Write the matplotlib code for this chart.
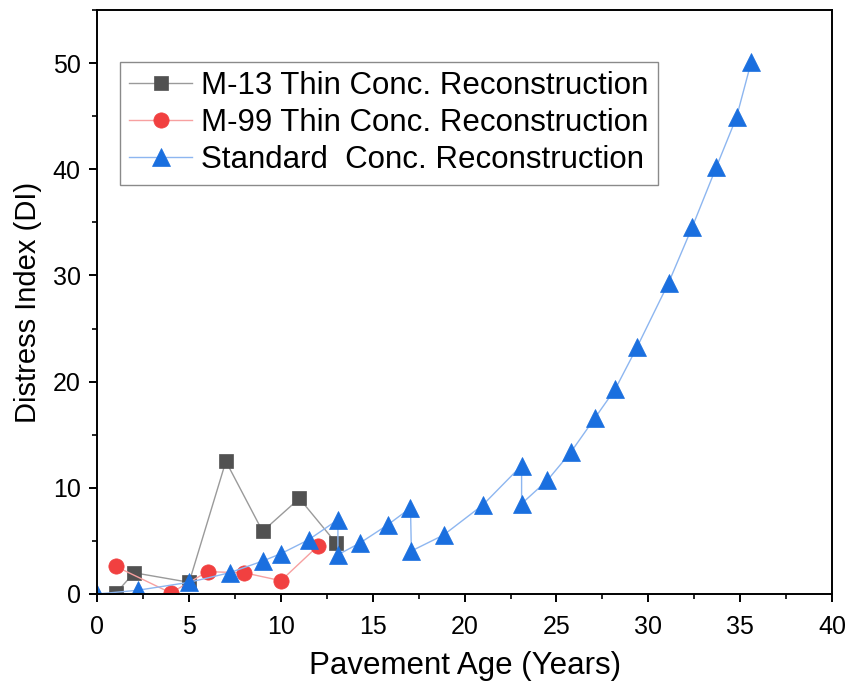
import matplotlib
matplotlib.use("Agg")
import matplotlib.pyplot as plt
from matplotlib.ticker import MultipleLocator

plt.rcParams['font.family'] = ['Liberation Sans', 'DejaVu Sans']

# M-13 thin concrete reconstruction
m13_age = [1, 2, 5, 7, 9, 11, 13]
m13_di = [0.05, 2.0, 1.1, 12.5, 5.9, 9.0, 4.8]

# M-99 thin concrete reconstruction
m99_age = [1, 4, 6, 8, 10, 12]
m99_di = [2.6, 0.1, 2.1, 2.0, 1.25, 4.5]

# standard concrete reconstruction
std_age = [0, 2.2, 5.0, 7.2, 9.0, 10.0, 11.5, 13.1, 13.1, 14.3, 15.8, 17.05,
           17.1, 18.85, 21.0, 23.1, 23.1, 24.5, 25.8, 27.1, 28.2, 29.4, 31.1,
           32.4, 33.7, 34.8, 35.6]
std_di = [0, 0.35, 1.1, 2.0, 3.1, 3.8, 5.1, 7.0, 3.7, 4.8, 6.5, 8.1,
          4.05, 5.55, 8.4, 12.1, 8.5, 10.7, 13.4, 16.6, 19.3, 23.3, 29.3,
          34.6, 40.2, 44.9, 50.1]

labels = ["M-13 Thin Conc. Reconstruction",
          "M-99 Thin Conc. Reconstruction",
          "Standard  Conc. Reconstruction"]

fig = plt.figure(figsize=(8.49, 6.87), dpi=100)
ax = fig.add_axes([0.1146, 0.1354, 0.8654, 0.85])

ax.plot(m13_age, m13_di, color="#9a9a9a", lw=1.0, marker="s", ms=10,
        mfc="#515151", mec="#515151", mew=0.5, label=labels[0])
ax.plot(m99_age, m99_di, color="#f7a0a0", lw=1.0, marker="o", ms=11,
        mfc="#f14040", mec="#f14040", mew=0.5, label=labels[1])
ax.plot(std_age, std_di, color="#8db6f0", lw=1.0, marker="^", ms=12.5,
        mfc="#1a6fdf", mec="#1a6fdf", mew=0.5, label=labels[2])

ax.set_xlim(0, 40)
ax.set_ylim(0, 55)
ax.xaxis.set_major_locator(MultipleLocator(5))
ax.xaxis.set_minor_locator(MultipleLocator(2.5))
ax.yaxis.set_major_locator(MultipleLocator(10))
ax.yaxis.set_minor_locator(MultipleLocator(5))

for s in ax.spines.values():
    s.set_linewidth(1.4)
ax.tick_params(which="major", direction="out", length=6, width=1.4,
               labelsize=18, pad=6)
ax.tick_params(axis="x", which="major", pad=9)
ax.tick_params(which="minor", direction="out", length=3.5, width=1.2)

ax.set_xlabel("Pavement Age (Years)", fontsize=22.5, labelpad=9)
ax.set_ylabel("Distress Index (DI)", fontsize=21, labelpad=8)

leg = ax.legend(loc="upper left", bbox_to_anchor=(0.031, 0.911),
                borderaxespad=0, fontsize=22.5, handlelength=2.0,
                handletextpad=0.3, labelspacing=0.22, borderpad=0.3,
                fancybox=False, framealpha=1, numpoints=1)
leg.get_frame().set_edgecolor("#8a8a8a")
leg.get_frame().set_linewidth(1.0)

fig.savefig("out.png", dpi=100)
